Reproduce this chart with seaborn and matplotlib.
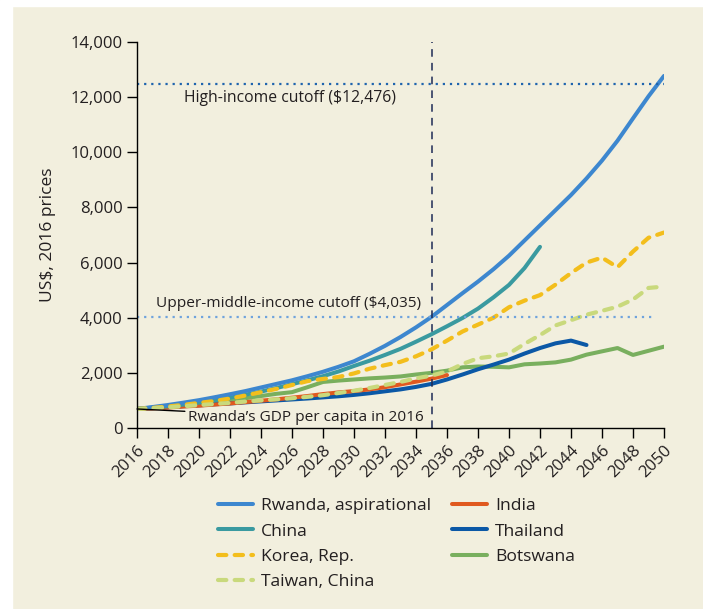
import pandas as pd
import matplotlib
matplotlib.use("Agg")
import matplotlib.pyplot as plt
import seaborn as sns

# Data (US$, 2016 prices)
years = list(range(2016, 2051))

rwanda = [690, 760, 835, 920, 1010, 1115, 1225, 1340, 1470, 1600, 1730, 1880,
          2040, 2220, 2420, 2690, 2980, 3300, 3650, 4030, 4460, 4890, 5310,
          5760, 6250, 6800, 7350, 7900, 8450, 9050, 9700, 10420, 11230, 12030, 12770]
china = [690, 740, 790, 850, 920, 1000, 1100, 1210, 1320, 1450, 1590, 1730,
         1880, 2050, 2250, 2440, 2650, 2870, 3130, 3400, 3690, 3990, 4330,
         4740, 5190, 5800, 6570]
korea = [690, 730, 780, 840, 910, 980, 1070, 1180, 1300, 1420, 1560, 1700,
         1780, 1850, 1980, 2150, 2280, 2400, 2600, 2850, 3170, 3500, 3750,
         4000, 4380, 4620, 4820, 5200, 5620, 6000, 6180, 5830, 6400, 6900, 7090]
taiwan = [690, 720, 750, 790, 830, 870, 910, 960, 1000, 1040, 1080, 1130,
          1190, 1270, 1350, 1450, 1560, 1670, 1800, 1900, 2050, 2320, 2530,
          2600, 2700, 3050, 3370, 3720, 3910, 4110, 4250, 4400, 4660, 5080, 5130]
india = [690, 710, 740, 780, 810, 850, 890, 940, 990, 1040, 1100, 1160,
         1230, 1290, 1340, 1400, 1480, 1580, 1680, 1790, 1920]
thailand = [690, 720, 750, 790, 820, 860, 890, 930, 965, 1000, 1035, 1070,
            1110, 1150, 1200, 1260, 1330, 1400, 1490, 1600, 1760, 1940, 2130,
            2300, 2480, 2700, 2900, 3070, 3170, 3010]
botswana = [690, 720, 760, 810, 860, 930, 1000, 1080, 1160, 1240, 1300, 1480,
            1670, 1720, 1760, 1800, 1830, 1870, 1940, 2000, 2080, 2200, 2230,
            2220, 2200, 2310, 2340, 2380, 2480, 2660, 2780, 2900, 2650, 2800, 2950]

high_income = 12476
upper_middle = 4035
marker_year = 2035

series = {
    "Rwanda, aspirational": rwanda,
    "China": china,
    "Korea, Rep.": korea,
    "Taiwan, China": taiwan,
    "India": india,
    "Thailand": thailand,
    "Botswana": botswana,
}
colors = {
    "Rwanda, aspirational": "#3D87CF",
    "China": "#3A9AA0",
    "Korea, Rep.": "#F3BE1C",
    "Taiwan, China": "#C9D97C",
    "India": "#E0591F",
    "Thailand": "#0B58A6",
    "Botswana": "#79AF5E",
}
dashed = ["Korea, Rep.", "Taiwan, China"]
draw_order = ["Botswana", "Thailand", "India", "China", "Rwanda, aspirational",
              "Korea, Rep.", "Taiwan, China"]

rows = []
for name, vals in series.items():
    for yr, v in zip(years, vals):
        rows.append({"year": yr, "gdp": v, "country": name})
df = pd.DataFrame(rows)

bg = "#F2EFDE"
sns.set_theme(style="ticks", rc={"axes.facecolor": bg, "figure.facecolor": bg})
plt.rcParams["font.family"] = ["Open Sans", "DejaVu Sans"]
txt = "#231F20"

fig = plt.figure(figsize=(7.03, 6.09), dpi=100)
ax = fig.add_axes([137 / 703, 1 - 428 / 609, 527 / 703, 386 / 609])
# white margins of the original scan
fig.patches.append(plt.Rectangle((0, 0), 12 / 703, 1, transform=fig.transFigure,
                                 color="white", zorder=0))
fig.patches.append(plt.Rectangle((0, 1 - 6 / 609), 1, 6 / 609, transform=fig.transFigure,
                                 color="white", zorder=0))

for name in draw_order:
    sub = df[df["country"] == name]
    kw = dict(lw=2.9, solid_capstyle="round")
    if name in dashed:
        kw = dict(lw=3.0, linestyle=(0, (2.0, 2.0)), dash_capstyle="round")
    sns.lineplot(data=sub, x="year", y="gdp", ax=ax, color=colors[name],
                 label=name, **kw)

# cutoffs and 2035 marker
ax.hlines(high_income, 2016, 2050, colors="#1F64AE", linestyles=(0, (1, 2.2)), lw=1.6)
ax.hlines(upper_middle, 2016, 2049.5, colors="#6FA3DD", linestyles=(0, (1, 2.2)), lw=1.6)
ax.vlines(marker_year, 0, 14000, colors="#1E2A55", linestyles=(0, (5, 4)), lw=1.1)

ax.text(2019.0, 11980, "High-income cutoff ($12,476)", fontsize=11.3, color=txt, va="center")
ax.text(2017.2, 4520, "Upper-middle-income cutoff ($4,035)", fontsize=11.1, color=txt, va="center")
ax.annotate("Rwanda\u2019s GDP per capita in 2016", xy=(2016, 690), xytext=(2019.3, 390),
            fontsize=11.1, color=txt, va="center",
            arrowprops=dict(arrowstyle="-", color="black", lw=1, shrinkA=0, shrinkB=0))

ax.set_xlim(2016, 2050)
ax.set_ylim(0, 14000)
ax.set_xticks(range(2016, 2051, 2))
ax.set_yticks(range(0, 14001, 2000))
ax.set_yticklabels([f"{v:,}" for v in range(0, 14001, 2000)])
ax.tick_params(axis="both", length=7, width=1, color="black", labelsize=12, labelcolor=txt)
plt.setp(ax.get_xticklabels(), rotation=45, ha="right", rotation_mode="anchor")
ax.set_xlabel("")
ax.set_ylabel("US$, 2016 prices", fontsize=12.5, color=txt, labelpad=10)
for s in ["left", "bottom"]:
    ax.spines[s].set_color("black")
    ax.spines[s].set_linewidth(1)
sns.despine(ax=ax)

handles, labels = ax.get_legend_handles_labels()
lookup = dict(zip(labels, handles))
names = list(series.keys())
ax.get_legend().remove()
fig.legend([lookup[n] for n in names], names, loc="upper left",
           bbox_to_anchor=(218 / 703, 1 - 498 / 609), ncol=2, frameon=False,
           fontsize=12.6, handlelength=2.0, handletextpad=0.45, columnspacing=1.2,
           labelspacing=0.52, borderpad=0, borderaxespad=0, labelcolor=txt)

fig.savefig("out.png", dpi=100, facecolor=bg)
